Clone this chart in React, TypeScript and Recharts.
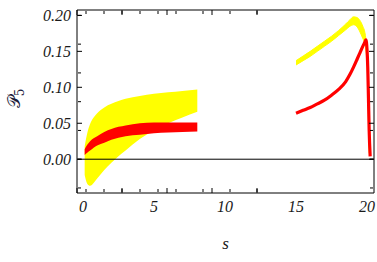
import { ComposedChart, Area, Line, XAxis, YAxis, ReferenceLine, Label } from 'recharts';

// s grid and bands, left branch (0 < s < 8)
const sLeft = [0.12, 0.3, 0.5, 0.75, 1, 1.5, 2, 2.5, 3, 4, 5, 6, 7, 8.05];
const yellowLoLeft = [-0.022, -0.034, -0.037, -0.033, -0.027, -0.015, -0.005, 0.004, 0.012, 0.028, 0.04, 0.05, 0.058, 0.066];
const yellowHiLeft = [0.018, 0.036, 0.049, 0.058, 0.064, 0.072, 0.077, 0.081, 0.084, 0.088, 0.091, 0.093, 0.095, 0.097];
const redLoLeft = [0.006, 0.009, 0.012, 0.016, 0.019, 0.023, 0.027, 0.03, 0.032, 0.034, 0.036, 0.037, 0.038, 0.0385];
const redHiLeft = [0.014, 0.02, 0.025, 0.029, 0.032, 0.038, 0.042, 0.045, 0.047, 0.05, 0.051, 0.051, 0.051, 0.051];

// right branch (15 < s < 20.2)
const sRight = [15, 15.5, 16, 16.5, 17, 17.5, 18, 18.5, 18.8, 19.05, 19.3, 19.5, 19.7, 19.85, 19.92, 20.0, 20.05, 20.1, 20.15, 20.22];
const yellowLoRight = [0.131, 0.137, 0.143, 0.15, 0.157, 0.164, 0.172, 0.18, 0.185, 0.187, 0.184, 0.177, 0.168, 0.16, 0.152, 0.132, 0.105, 0.05, 0.008, null];
const yellowHiRight = [0.137, 0.1435, 0.15, 0.157, 0.164, 0.171, 0.179, 0.188, 0.194, 0.198, 0.197, 0.193, 0.185, 0.176, 0.167, 0.148, 0.125, 0.07, 0.015, null];
const redRight = [0.064, 0.068, 0.072, 0.077, 0.082, 0.089, 0.097, 0.108, 0.118, 0.128, 0.139, 0.148, 0.157, 0.163, 0.166, 0.152, 0.128, 0.085, 0.04, 0.004];

const xTicks = [0, 5, 10, 15, 20];
const xMinorTicks = [0, 1, 2, 3, 4, 5, 6, 7, 8, 9, 10, 11, 12, 13, 14, 15, 16, 17, 18, 19, 20];
const yTicks = [0, 0.05, 0.1, 0.15, 0.2];
const yMinorTicks = [-0.04, -0.03, -0.02, -0.01, 0, 0.01, 0.02, 0.03, 0.04, 0.05, 0.06, 0.07, 0.08, 0.09, 0.1,
  0.11, 0.12, 0.13, 0.14, 0.15, 0.16, 0.17, 0.18, 0.19, 0.2];

const xDomain = [-0.42, 20.49];
const yDomain = [-0.047, 0.2075];

const rows = [
  ...sLeft.map((s, i) => ({
    s,
    yellowL: [yellowLoLeft[i], yellowHiLeft[i]],
    redL: [redLoLeft[i], redHiLeft[i]],
  })),
  ...sRight.map((s, i) => ({
    s,
    yellowR: yellowHiRight[i] == null ? undefined : [yellowLoRight[i], yellowHiRight[i]],
    redR: redRight[i],
  })),
];

const tickFont = { fontFamily: '"Liberation Serif", serif', fontStyle: 'italic', fontSize: 16, fill: '#1a1a1a' };
const noLabel = () => <g />;
const tickStroke = { stroke: '#000', strokeWidth: 1 };

const YLabel = ({ viewBox }: any) => {
  const x = viewBox.x + 20;
  const y = viewBox.y + viewBox.height / 2 - 3;
  return (
    <text
      x={x}
      y={y}
      textAnchor="middle"
      transform={`rotate(-90, ${x}, ${y})`}
      style={{ fontFamily: '"DejaVu Serif", "Liberation Serif", serif', fontSize: 17, fill: '#1a1a3a' }}
    >
      <tspan>𝒫</tspan>
      <tspan dy={4} fontSize={12}>5</tspan>
    </text>
  );
};

export default function App() {
  return (
    <div style={{ position: 'absolute', left: 0, top: 0, width: 377, height: 262, background: '#fff' }}>
      <ComposedChart width={377} height={262} data={rows} margin={{ top: 10, right: 3, left: 0, bottom: 0 }}>
        {/* labelled axes */}
        <XAxis
          xAxisId="x"
          dataKey="s"
          type="number"
          domain={xDomain}
          allowDataOverflow
          ticks={xTicks}
          tickLine={false}
          tickSize={0}
          tickMargin={8}
          height={69}
          axisLine={{ stroke: '#000' }}
          tick={tickFont}
        >
          <Label
            value="s"
            position="insideTop"
            offset={44}
            style={{ fontFamily: '"Liberation Serif", serif', fontStyle: 'italic', fontSize: 17, fill: '#1a1a1a' }}
          />
        </XAxis>
        <YAxis
          yAxisId="y"
          type="number"
          domain={yDomain}
          allowDataOverflow
          ticks={yTicks}
          tickFormatter={(v: number) => v.toFixed(2)}
          tickLine={false}
          tickSize={0}
          tickMargin={6}
          width={77}
          axisLine={{ stroke: '#000' }}
          tick={tickFont}
        >
          <Label content={<YLabel />} />
        </YAxis>

        {/* inward frame ticks */}
        <XAxis xAxisId="bMaj" type="number" domain={xDomain} allowDataOverflow ticks={xTicks} mirror height={1}
          tick={noLabel} axisLine={false} tickLine={tickStroke} tickSize={5} />
        <XAxis xAxisId="bMin" type="number" domain={xDomain} allowDataOverflow ticks={xMinorTicks} mirror height={1}
          tick={noLabel} axisLine={false} tickLine={tickStroke} tickSize={3} />
        <XAxis xAxisId="tMaj" orientation="top" type="number" domain={xDomain} allowDataOverflow ticks={xTicks} mirror height={1}
          tick={noLabel} axisLine={{ stroke: '#000' }} tickLine={tickStroke} tickSize={5} />
        <XAxis xAxisId="tMin" orientation="top" type="number" domain={xDomain} allowDataOverflow ticks={xMinorTicks} mirror height={1}
          tick={noLabel} axisLine={false} tickLine={tickStroke} tickSize={3} />
        <YAxis yAxisId="lMaj" type="number" domain={yDomain} allowDataOverflow ticks={yTicks} mirror width={1}
          tick={noLabel} axisLine={false} tickLine={tickStroke} tickSize={5} />
        <YAxis yAxisId="lMin" type="number" domain={yDomain} allowDataOverflow ticks={yMinorTicks} mirror width={1}
          tick={noLabel} axisLine={false} tickLine={tickStroke} tickSize={3} />
        <YAxis yAxisId="rMaj" orientation="right" type="number" domain={yDomain} allowDataOverflow ticks={yTicks} mirror width={1}
          tick={noLabel} axisLine={{ stroke: '#000' }} tickLine={tickStroke} tickSize={5} />
        <YAxis yAxisId="rMin" orientation="right" type="number" domain={yDomain} allowDataOverflow ticks={yMinorTicks} mirror width={1}
          tick={noLabel} axisLine={false} tickLine={tickStroke} tickSize={3} />

        <Area xAxisId="x" yAxisId="y" type="monotone" dataKey="yellowL" fill="#ffff00" fillOpacity={1} stroke="none" isAnimationActive={false} />
        <Area xAxisId="x" yAxisId="y" type="monotone" dataKey="yellowR" fill="#ffff00" fillOpacity={1} stroke="#ffff00" strokeWidth={1} isAnimationActive={false} />
        <Area xAxisId="x" yAxisId="y" type="monotone" dataKey="redL" fill="#ff0000" fillOpacity={1} stroke="none" isAnimationActive={false} />
        <Line xAxisId="x" yAxisId="y" type="monotone" dataKey="redR" stroke="#ff0000" strokeWidth={3.2} dot={false} isAnimationActive={false} />
        <ReferenceLine xAxisId="x" yAxisId="y" y={0} stroke="#000" strokeWidth={1} />
      </ComposedChart>
    </div>
  );
}
